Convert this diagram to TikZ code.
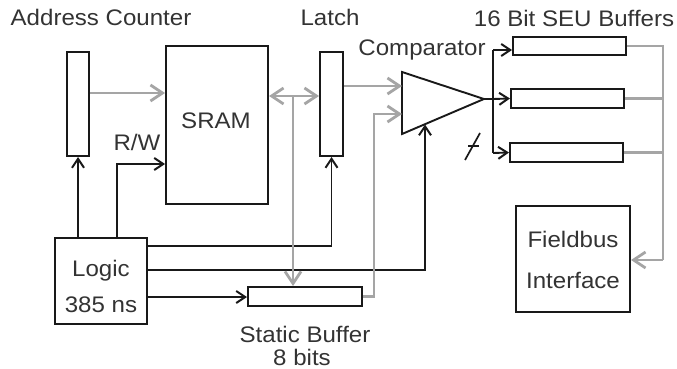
\documentclass[tikz,border=0pt]{standalone}
\usepackage{fontspec}
\setmainfont{Liberation Sans}[FakeStretch=1.07]
\usetikzlibrary{arrows.meta}
\definecolor{gline}{RGB}{165,165,165}
\definecolor{bline}{RGB}{25,25,25}
\begin{document}
\begin{tikzpicture}[x=1pt,y=-1pt,
  gtip/.tip={Straight Barb[length=12pt,width=16pt,line width=2.8pt]},
  btip/.tip={Straight Barb[length=9pt,width=12pt,line width=2pt]},
  box/.style={draw=bline,line width=2pt,fill=white,inner sep=0pt,minimum width=#1},
  blk/.style={draw=bline,line width=1.9pt,-btip},
  bln/.style={draw=bline,line width=1.9pt},
  gry/.style={draw=gline,line width=2.7pt,-gtip},
  gln/.style={draw=gline,line width=2.7pt},
  lbl/.style={anchor=base,inner sep=0pt,font=\fontsize{22.5}{26}\selectfont,text=black!80}]
\useasboundingbox (0,0) rectangle (677,369);
% boxes
\node[box=22pt,minimum height=104pt] (ac) at (78,104) {};
\node[box=102pt,minimum height=158pt] (sram) at (217,125) {};
\node[box=23pt,minimum height=104pt] (latch) at (331.5,104) {};
\node[box=92pt,minimum height=86pt] (logic) at (101,281) {};
\node[box=114pt,minimum height=19pt] (sbuf) at (305,296.5) {};
\node[box=113pt,minimum height=18pt] (seu1) at (569.5,46) {};
\node[box=113pt,minimum height=19pt] (seu2) at (567.5,98.5) {};
\node[box=113pt,minimum height=19pt] (seu3) at (566.5,152.5) {};
\node[box=114pt,minimum height=106pt] (fb) at (573,259) {};
% comparator
\coordinate (ct) at (402,72);
\coordinate (cbm) at (402,134);
\coordinate (tip) at (484,99);
\draw[bln,line join=miter,fill=white] (ct) -- (tip) -- (cbm) -- cycle;
% labels
\node[lbl] (tac) at (101,26) {Address Counter};
\node[lbl] (tlatch) at (330,26) {Latch};
\node[lbl] (tseu) at (574,27) {16 Bit SEU Buffers};
\node[lbl] (tcomp) at (422,56) {Comparator};
\node[lbl] (tsram) at (216,128) {SRAM};
\node[lbl] (trw) at (137,150) {R/W};
\node[lbl] (tlog1) at (101,276) {Logic};
\node[lbl] (tlog2) at (101,312) {385 ns};
\node[lbl] (tsb1) at (305,342) {Static Buffer};
\node[lbl] (tsb2) at (302,365) {8 bits};
\node[lbl] (tfb1) at (573,247) {Fieldbus};
\node[lbl] (tfb2) at (573,288) {Interface};
% coordinates
\coordinate (rw) at (117,164);
\coordinate (a1) at (0,93);
\coordinate (b) at (293,96);
\coordinate (l1) at (0,246);
\coordinate (l2) at (425,270);
\coordinate (cin) at (425,124.5);
\coordinate (l3) at (0,297);
\coordinate (g1) at (0,86);
\coordinate (sb) at (374,114);
\coordinate (bus) at (493,99);
\coordinate (bt) at (493,50);
\coordinate (bb) at (493,153);
\coordinate (gx) at (663,260);
% black connectors
\draw[blk] (logic.north -| ac) -- (ac.south);
\draw[blk] (logic.north -| rw) -- (rw) -- (rw -| sram.west);
\draw[blk] (logic.east |- l1) -| (latch.south);
\draw[blk] (logic.east |- l2) -- (l2) -- (cin);
\draw[blk] (logic.east |- l3) -- (sbuf.west |- l3);
\draw[bln] (tip) -- (bus);
\draw[bln] (bt) -- (bb);
\draw[blk] (bt) -- (bt -| seu1.west);
\draw[blk] (bus) -- (seu2.west);
\draw[blk] (bb) -- (seu3.west);
% bus slash
\draw[bln,line width=1.7pt] (465,160) -- (480,133);
\draw[bln,line width=1.7pt] (468,146) -- (479,146);
% gray connectors
\draw[gry] (ac.east |- a1) -- (sram.west |- a1);
\draw[gry,gtip-gtip] (sram.east |- b) -- (latch.west |- b);
\draw[gry] (b) -- (b |- sbuf.north);
\draw[gry] (latch.east |- g1) -- (ct |- g1);
\draw[gry] (sbuf.east) -| (sb) -- (ct |- sb);
\draw[gln] (seu1.east) -| (gx);
\draw[gln] (seu2.east) -- (seu2.east -| gx);
\draw[gln] (seu3.east) -- (seu3.east -| gx);
\draw[gry] (gx) -- (fb.east |- gx);
\end{tikzpicture}
\end{document}
